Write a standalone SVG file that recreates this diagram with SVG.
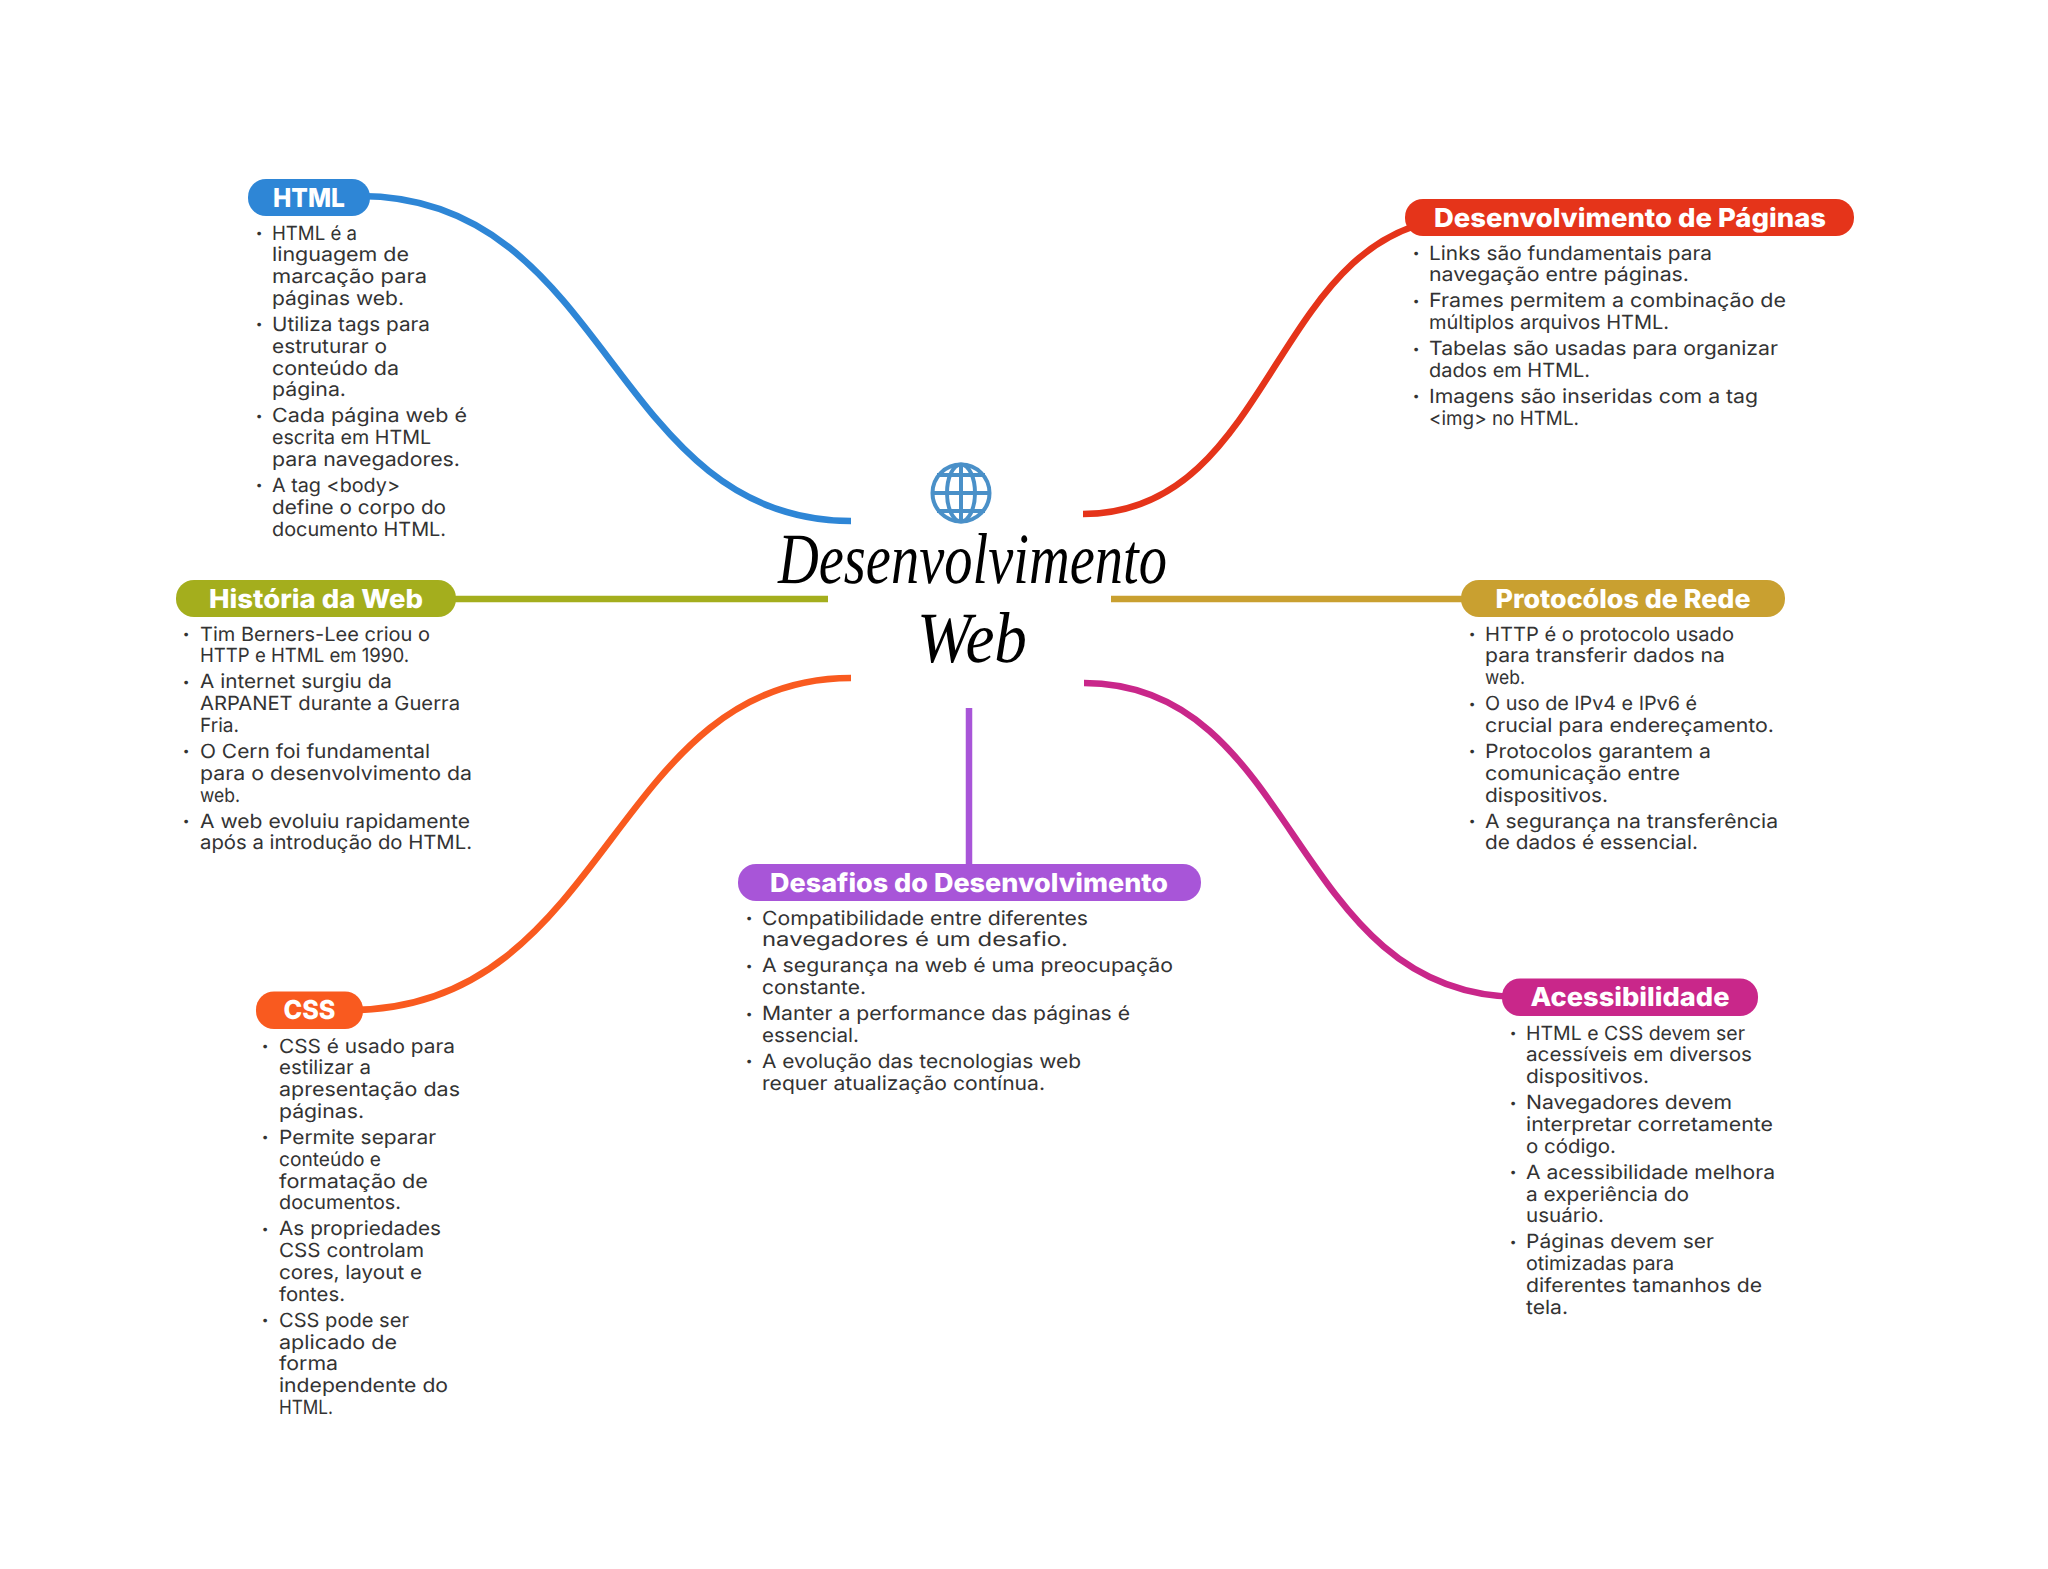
<svg xmlns="http://www.w3.org/2000/svg" width="2048" height="1569" viewBox="0 0 2048 1569">
<style>
text{text-rendering:geometricPrecision;}
.b{font:400 19.5px Inter,"Liberation Sans",sans-serif;fill:#333;transform:translateY(.7px);}
.d{font:400 12px Inter,"Liberation Sans",sans-serif;fill:#333;text-anchor:middle;transform:translateY(-2px);}
.l{font:800 26px Inter,"Liberation Sans",sans-serif;fill:#fff;text-anchor:middle;}
.t{font:italic 400 72px "Liberation Serif",serif;fill:#000;text-anchor:middle;}
.c{fill:none;stroke-width:6.5;}
</style>
<rect width="2048" height="1569" fill="#fff"/>
<g id="connectors">
<path class="c" stroke="#2e86d6" d="M360 196C610 196 610 521 851 521"/>
<path class="c" stroke="#e5341a" d="M1083 514C1280 514 1270 217 1470 217"/>
<path class="c" stroke="#a4ae1d" d="M440 599H828"/>
<path class="c" stroke="#c9a030" d="M1111 599H1480"/>
<path class="c" stroke="#f95a1f" d="M851 678C610 678 610 1010 350 1010"/>
<path class="c" stroke="#c9278a" d="M1084 683C1300 683 1290 997 1520 997"/>
<path class="c" stroke="#a855d8" d="M969 708V870"/>
</g>
<g id="center">
<g fill="none" stroke="#4a90c8" stroke-width="4">
<circle cx="961" cy="493" r="28.500"/>
<ellipse cx="961" cy="493" rx="14" ry="28.500"/>
<path d="M961 464.500V521.500M932.500 493H989.500M937 475H985M937 511H985"/>
</g>
<text class="t" x="972.500" y="583" textLength="389" lengthAdjust="spacingAndGlyphs">Desenvolvimento</text>
<text class="t" x="972" y="662" textLength="110" lengthAdjust="spacingAndGlyphs">Web</text>
</g>
<g id="html">
<rect x="248" y="179" width="122" height="37" rx="18" fill="#2e86d6"/>
<text class="l" x="309" y="206.500" textLength="72" lengthAdjust="spacingAndGlyphs">HTML</text>
<text class="d" x="259" y="239">•</text><text class="b" x="272" y="239" textLength="85" lengthAdjust="spacingAndGlyphs">HTML é a</text>
<text class="b" x="272" y="260.800" textLength="137" lengthAdjust="spacingAndGlyphs">linguagem de</text>
<text class="b" x="272" y="282.600" textLength="155" lengthAdjust="spacingAndGlyphs">marcação para</text>
<text class="b" x="272" y="304.400" textLength="132" lengthAdjust="spacingAndGlyphs">páginas web.</text>
<text class="d" x="259" y="330.400">•</text><text class="b" x="272" y="330.400" textLength="158" lengthAdjust="spacingAndGlyphs">Utiliza tags para</text>
<text class="b" x="272" y="352.200" textLength="115" lengthAdjust="spacingAndGlyphs">estruturar o</text>
<text class="b" x="272" y="374" textLength="127" lengthAdjust="spacingAndGlyphs">conteúdo da</text>
<text class="b" x="272" y="395.800" textLength="74" lengthAdjust="spacingAndGlyphs">página.</text>
<text class="d" x="259" y="421.800">•</text><text class="b" x="272" y="421.800" textLength="195" lengthAdjust="spacingAndGlyphs">Cada página web é</text>
<text class="b" x="272" y="443.600" textLength="159" lengthAdjust="spacingAndGlyphs">escrita em HTML</text>
<text class="b" x="272" y="465.400" textLength="188" lengthAdjust="spacingAndGlyphs">para navegadores.</text>
<text class="d" x="259" y="491.400">•</text><text class="b" x="272" y="491.400" textLength="128" lengthAdjust="spacingAndGlyphs">A tag &lt;body&gt;</text>
<text class="b" x="272" y="513.200" textLength="174" lengthAdjust="spacingAndGlyphs">define o corpo do</text>
<text class="b" x="272" y="535" textLength="174" lengthAdjust="spacingAndGlyphs">documento HTML.</text>
</g>
<g id="dev">
<rect x="1405" y="199" width="449" height="37" rx="18" fill="#e5341a"/>
<text class="l" x="1630" y="226.500" textLength="392" lengthAdjust="spacingAndGlyphs">Desenvolvimento de Páginas</text>
<text class="d" x="1416" y="259">•</text><text class="b" x="1429" y="259" textLength="283" lengthAdjust="spacingAndGlyphs">Links são fundamentais para</text>
<text class="b" x="1429" y="280.800" textLength="260" lengthAdjust="spacingAndGlyphs">navegação entre páginas.</text>
<text class="d" x="1416" y="306.800">•</text><text class="b" x="1429" y="306.800" textLength="357" lengthAdjust="spacingAndGlyphs">Frames permitem a combinação de</text>
<text class="b" x="1429" y="328.600" textLength="240" lengthAdjust="spacingAndGlyphs">múltiplos arquivos HTML.</text>
<text class="d" x="1416" y="354.600">•</text><text class="b" x="1429" y="354.600" textLength="349" lengthAdjust="spacingAndGlyphs">Tabelas são usadas para organizar</text>
<text class="b" x="1429" y="376.400" textLength="161" lengthAdjust="spacingAndGlyphs">dados em HTML.</text>
<text class="d" x="1416" y="402.400">•</text><text class="b" x="1429" y="402.400" textLength="329" lengthAdjust="spacingAndGlyphs">Imagens são inseridas com a tag</text>
<text class="b" x="1429" y="424.200" textLength="150" lengthAdjust="spacingAndGlyphs">&lt;img&gt; no HTML.</text>
</g>
<g id="historia">
<rect x="176" y="580" width="280" height="37" rx="18" fill="#a4ae1d"/>
<text class="l" x="316" y="607.500" textLength="214" lengthAdjust="spacingAndGlyphs">História da Web</text>
<text class="d" x="186" y="640">•</text><text class="b" x="200" y="640" textLength="230" lengthAdjust="spacingAndGlyphs">Tim Berners-Lee criou o</text>
<text class="b" x="200" y="661.800" textLength="209" lengthAdjust="spacingAndGlyphs">HTTP e HTML em 1990.</text>
<text class="d" x="186" y="687.800">•</text><text class="b" x="200" y="687.800" textLength="192" lengthAdjust="spacingAndGlyphs">A internet surgiu da</text>
<text class="b" x="200" y="709.600" textLength="260" lengthAdjust="spacingAndGlyphs">ARPANET durante a Guerra</text>
<text class="b" x="200" y="731.400" textLength="39" lengthAdjust="spacingAndGlyphs">Fria.</text>
<text class="d" x="186" y="757.400">•</text><text class="b" x="200" y="757.400" textLength="230" lengthAdjust="spacingAndGlyphs">O Cern foi fundamental</text>
<text class="b" x="200" y="779.200" textLength="272" lengthAdjust="spacingAndGlyphs">para o desenvolvimento da</text>
<text class="b" x="200" y="801" textLength="40" lengthAdjust="spacingAndGlyphs">web.</text>
<text class="d" x="186" y="827">•</text><text class="b" x="200" y="827" textLength="270" lengthAdjust="spacingAndGlyphs">A web evoluiu rapidamente</text>
<text class="b" x="200" y="848.800" textLength="272" lengthAdjust="spacingAndGlyphs">após a introdução do HTML.</text>
</g>
<g id="protocolos">
<rect x="1461" y="580" width="324" height="37" rx="18" fill="#c9a030"/>
<text class="l" x="1623" y="607.500" textLength="255" lengthAdjust="spacingAndGlyphs">Protocólos de Rede</text>
<text class="d" x="1472" y="640">•</text><text class="b" x="1485" y="640" textLength="249" lengthAdjust="spacingAndGlyphs">HTTP é o protocolo usado</text>
<text class="b" x="1485" y="661.800" textLength="240" lengthAdjust="spacingAndGlyphs">para transferir dados na</text>
<text class="b" x="1485" y="683.600" textLength="40" lengthAdjust="spacingAndGlyphs">web.</text>
<text class="d" x="1472" y="709.600">•</text><text class="b" x="1485" y="709.600" textLength="212" lengthAdjust="spacingAndGlyphs">O uso de IPv4 e IPv6 é</text>
<text class="b" x="1485" y="731.400" textLength="289" lengthAdjust="spacingAndGlyphs">crucial para endereçamento.</text>
<text class="d" x="1472" y="757.400">•</text><text class="b" x="1485" y="757.400" textLength="226" lengthAdjust="spacingAndGlyphs">Protocolos garantem a</text>
<text class="b" x="1485" y="779.200" textLength="195" lengthAdjust="spacingAndGlyphs">comunicação entre</text>
<text class="b" x="1485" y="801" textLength="123" lengthAdjust="spacingAndGlyphs">dispositivos.</text>
<text class="d" x="1472" y="827">•</text><text class="b" x="1485" y="827" textLength="293" lengthAdjust="spacingAndGlyphs">A segurança na transferência</text>
<text class="b" x="1485" y="848.800" textLength="213" lengthAdjust="spacingAndGlyphs">de dados é essencial.</text>
</g>
<g id="desafios">
<rect x="738" y="864" width="463" height="37" rx="18" fill="#a855d8"/>
<text class="l" x="969" y="891.500" textLength="398" lengthAdjust="spacingAndGlyphs">Desafios do Desenvolvimento</text>
<text class="d" x="749" y="924">•</text><text class="b" x="762" y="924" textLength="326" lengthAdjust="spacingAndGlyphs">Compatibilidade entre diferentes</text>
<text class="b" x="762" y="945.800" textLength="306" lengthAdjust="spacingAndGlyphs">navegadores é um desafio.</text>
<text class="d" x="749" y="971.800">•</text><text class="b" x="762" y="971.800" textLength="411" lengthAdjust="spacingAndGlyphs">A segurança na web é uma preocupação</text>
<text class="b" x="762" y="993.600" textLength="104" lengthAdjust="spacingAndGlyphs">constante.</text>
<text class="d" x="749" y="1019.600">•</text><text class="b" x="762" y="1019.600" textLength="368" lengthAdjust="spacingAndGlyphs">Manter a performance das páginas é</text>
<text class="b" x="762" y="1041.400" textLength="97" lengthAdjust="spacingAndGlyphs">essencial.</text>
<text class="d" x="749" y="1067.400">•</text><text class="b" x="762" y="1067.400" textLength="319" lengthAdjust="spacingAndGlyphs">A evolução das tecnologias web</text>
<text class="b" x="762" y="1089.200" textLength="283" lengthAdjust="spacingAndGlyphs">requer atualização contínua.</text>
</g>
<g id="css">
<rect x="256" y="991.500" width="107" height="37.500" rx="18" fill="#f95a1f"/>
<text class="l" x="309.500" y="1019" textLength="52" lengthAdjust="spacingAndGlyphs">CSS</text>
<text class="d" x="265" y="1052">•</text><text class="b" x="279" y="1052" textLength="176" lengthAdjust="spacingAndGlyphs">CSS é usado para</text>
<text class="b" x="279" y="1073.800" textLength="92" lengthAdjust="spacingAndGlyphs">estilizar a</text>
<text class="b" x="279" y="1095.600" textLength="181" lengthAdjust="spacingAndGlyphs">apresentação das</text>
<text class="b" x="279" y="1117.400" textLength="85" lengthAdjust="spacingAndGlyphs">páginas.</text>
<text class="d" x="265" y="1143.400">•</text><text class="b" x="279" y="1143.400" textLength="157" lengthAdjust="spacingAndGlyphs">Permite separar</text>
<text class="b" x="279" y="1165.200" textLength="102" lengthAdjust="spacingAndGlyphs">conteúdo e</text>
<text class="b" x="279" y="1187" textLength="149" lengthAdjust="spacingAndGlyphs">formatação de</text>
<text class="b" x="279" y="1208.800" textLength="122" lengthAdjust="spacingAndGlyphs">documentos.</text>
<text class="d" x="265" y="1234.800">•</text><text class="b" x="279" y="1234.800" textLength="162" lengthAdjust="spacingAndGlyphs">As propriedades</text>
<text class="b" x="279" y="1256.600" textLength="145" lengthAdjust="spacingAndGlyphs">CSS controlam</text>
<text class="b" x="279" y="1278.400" textLength="143" lengthAdjust="spacingAndGlyphs">cores, layout e</text>
<text class="b" x="279" y="1300.200" textLength="66" lengthAdjust="spacingAndGlyphs">fontes.</text>
<text class="d" x="265" y="1326.200">•</text><text class="b" x="279" y="1326.200" textLength="130" lengthAdjust="spacingAndGlyphs">CSS pode ser</text>
<text class="b" x="279" y="1348" textLength="118" lengthAdjust="spacingAndGlyphs">aplicado de</text>
<text class="b" x="279" y="1369.800" textLength="59" lengthAdjust="spacingAndGlyphs">forma</text>
<text class="b" x="279" y="1391.600" textLength="169" lengthAdjust="spacingAndGlyphs">independente do</text>
<text class="b" x="279" y="1413.400" textLength="54" lengthAdjust="spacingAndGlyphs">HTML.</text>
</g>
<g id="acessibilidade">
<rect x="1502" y="978.500" width="256" height="37.500" rx="18" fill="#c9278a"/>
<text class="l" x="1630" y="1006" textLength="199" lengthAdjust="spacingAndGlyphs">Acessibilidade</text>
<text class="d" x="1513" y="1039">•</text><text class="b" x="1526" y="1039" textLength="219" lengthAdjust="spacingAndGlyphs">HTML e CSS devem ser</text>
<text class="b" x="1526" y="1060.800" textLength="226" lengthAdjust="spacingAndGlyphs">acessíveis em diversos</text>
<text class="b" x="1526" y="1082.600" textLength="123" lengthAdjust="spacingAndGlyphs">dispositivos.</text>
<text class="d" x="1513" y="1108.600">•</text><text class="b" x="1526" y="1108.600" textLength="206" lengthAdjust="spacingAndGlyphs">Navegadores devem</text>
<text class="b" x="1526" y="1130.400" textLength="247" lengthAdjust="spacingAndGlyphs">interpretar corretamente</text>
<text class="b" x="1526" y="1152.200" textLength="90" lengthAdjust="spacingAndGlyphs">o código.</text>
<text class="d" x="1513" y="1178.200">•</text><text class="b" x="1526" y="1178.200" textLength="249" lengthAdjust="spacingAndGlyphs">A acessibilidade melhora</text>
<text class="b" x="1526" y="1200" textLength="163" lengthAdjust="spacingAndGlyphs">a experiência do</text>
<text class="b" x="1526" y="1221.800" textLength="78" lengthAdjust="spacingAndGlyphs">usuário.</text>
<text class="d" x="1513" y="1247.800">•</text><text class="b" x="1526" y="1247.800" textLength="188" lengthAdjust="spacingAndGlyphs">Páginas devem ser</text>
<text class="b" x="1526" y="1269.600" textLength="148" lengthAdjust="spacingAndGlyphs">otimizadas para</text>
<text class="b" x="1526" y="1291.400" textLength="236" lengthAdjust="spacingAndGlyphs">diferentes tamanhos de</text>
<text class="b" x="1526" y="1313.200" textLength="42" lengthAdjust="spacingAndGlyphs">tela.</text>
</g>
</svg>
